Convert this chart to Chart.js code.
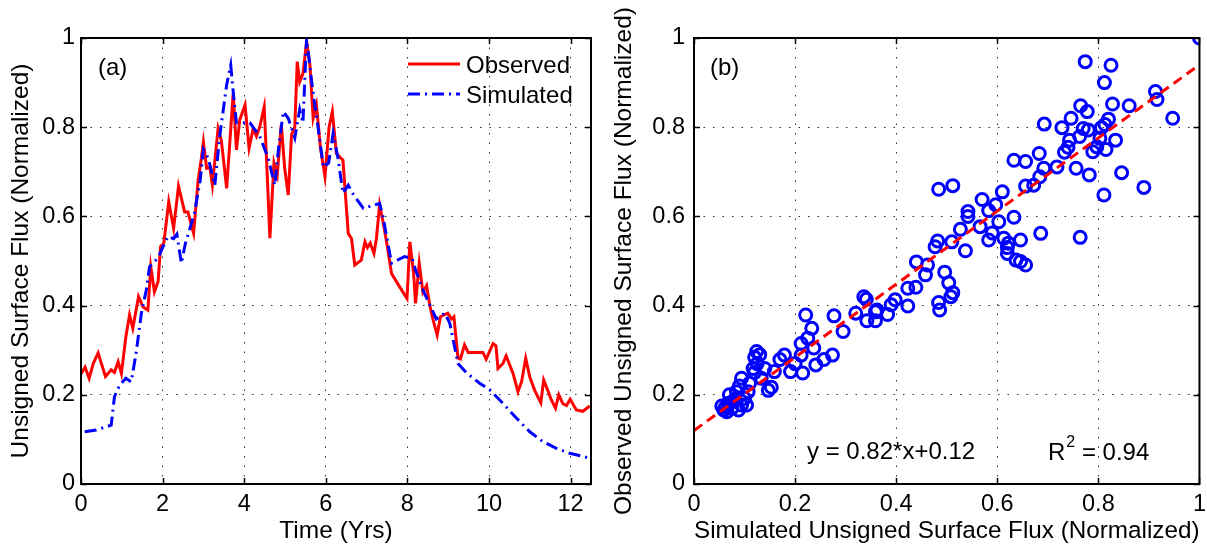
<!DOCTYPE html>
<html>
<head>
<meta charset="utf-8">
<script src="https://cdn.jsdelivr.net/npm/chart.js@4.4.0/dist/chart.umd.min.js"></script>
<style>
    html, body { margin: 0; padding: 0; background: #fff; overflow: hidden; width: 1207px; height: 546px; }
    #panelA { position: absolute; left: 0; top: 0; }
    #panelB { position: absolute; left: 600px; top: 0; }
</style>
</head>
<body>
<canvas id="panelA" width="600" height="546"></canvas>
<canvas id="panelB" width="612" height="546"></canvas>
<script>
/* FIGURA FLUJO SUPERFICIAL: (a) serie temporal, (b) dispersión */

// DATOS PANEL (a)
const tiempoObs = [
    0.0, 0.1, 0.2, 0.3, 0.42, 0.5, 0.6, 0.74, 0.82, 0.91, 0.99, 1.1, 1.19, 1.27, 1.41, 1.52, 1.64, 1.71, 1.8, 1.89,
    1.95, 2.03, 2.15, 2.27, 2.39, 2.54, 2.62, 2.76, 2.87, 2.95, 3.0, 3.08, 3.16, 3.22, 3.36, 3.44, 3.57, 3.73, 3.81, 3.89,
    4.02, 4.12, 4.22, 4.3, 4.38, 4.49, 4.55, 4.63, 4.73, 4.81, 4.91, 4.99, 5.08, 5.16, 5.24, 5.3, 5.36, 5.44, 5.53, 5.61,
    5.69, 5.77, 5.87, 5.98, 6.08, 6.16, 6.26, 6.42, 6.55, 6.63, 6.71, 6.87, 6.96, 7.02, 7.09, 7.18, 7.24, 7.32, 7.42, 7.53,
    7.61, 7.81, 7.99, 8.06, 8.15, 8.2, 8.29, 8.38, 8.47, 8.55, 8.63, 8.73, 8.81, 8.92, 8.99, 9.08, 9.14, 9.24, 9.3, 9.4,
    9.49, 9.85, 9.93, 10.1, 10.17, 10.22, 10.34, 10.42, 10.59, 10.71, 10.8, 10.9, 11.0, 11.12, 11.27, 11.34, 11.44, 11.52, 11.63, 11.71,
    11.81, 11.9, 11.99, 12.14, 12.3, 12.47
];
const observado = [
    0.247, 0.262, 0.237, 0.27, 0.294, 0.27, 0.241, 0.256, 0.25, 0.274, 0.248, 0.33, 0.379, 0.349, 0.42, 0.397, 0.39, 0.487, 0.431, 0.454,
    0.532, 0.54, 0.633, 0.573, 0.668, 0.61, 0.61, 0.562, 0.68, 0.73, 0.767, 0.708, 0.71, 0.67, 0.797, 0.77, 0.663, 0.876, 0.749, 0.816,
    0.85, 0.753, 0.797, 0.78, 0.8, 0.846, 0.723, 0.551, 0.72, 0.693, 0.805, 0.71, 0.648, 0.783, 0.8, 0.947, 0.902, 0.92, 0.992, 0.94,
    0.82, 0.85, 0.753, 0.689, 0.8, 0.835, 0.741, 0.726, 0.562, 0.55, 0.491, 0.502, 0.543, 0.53, 0.54, 0.517, 0.55, 0.626, 0.58, 0.52,
    0.472, 0.442, 0.416, 0.543, 0.475, 0.405, 0.495, 0.43, 0.445, 0.4, 0.368, 0.334, 0.375, 0.38, 0.383, 0.37, 0.375, 0.282, 0.28, 0.312,
    0.295, 0.295, 0.28, 0.315, 0.31, 0.259, 0.27, 0.287, 0.248, 0.207, 0.23, 0.282, 0.24, 0.21, 0.182, 0.233, 0.21, 0.19, 0.17, 0.2,
    0.18, 0.176, 0.19, 0.166, 0.163, 0.175
];
const tiempoSim = [
    0.09, 0.375, 0.74, 0.82, 0.95, 1.1, 1.23, 1.35, 1.48, 1.6, 1.68, 1.89, 2.0, 2.13, 2.27, 2.35, 2.46, 2.56, 2.78, 2.92,
    3.0, 3.12, 3.28, 3.4, 3.57, 3.67, 3.73, 3.81, 3.98, 4.14, 4.38, 4.59, 4.75, 4.85, 4.96, 5.08, 5.24, 5.36, 5.44, 5.53,
    5.65, 5.73, 5.81, 5.94, 6.07, 6.18, 6.3, 6.42, 6.55, 6.67, 6.92, 7.32, 7.4, 7.61, 7.93, 8.12, 8.2, 8.36, 8.55, 8.71,
    8.92, 9.04, 9.24, 9.44, 9.77, 10.02, 10.34, 10.67, 11.0, 11.32, 11.65, 11.98, 12.47
];
const simulado = [
    0.117, 0.121, 0.132, 0.196, 0.222, 0.237, 0.229, 0.293, 0.383, 0.435, 0.487, 0.507, 0.53, 0.555, 0.55, 0.56, 0.495, 0.54, 0.607, 0.68,
    0.75, 0.73, 0.67, 0.78, 0.895, 0.939, 0.88, 0.81, 0.81, 0.81, 0.78, 0.73, 0.67, 0.76, 0.835, 0.82, 0.776, 0.84, 0.81, 1.0,
    0.905, 0.85, 0.8, 0.71, 0.72, 0.786, 0.73, 0.652, 0.67, 0.65, 0.618, 0.629, 0.6, 0.495, 0.51, 0.505, 0.48, 0.44, 0.401, 0.37,
    0.383, 0.36, 0.27, 0.25, 0.226, 0.211, 0.181, 0.148, 0.117, 0.095, 0.08, 0.069, 0.058
];

// DATOS PANEL (b)
const flujoSimulado = [
    0.336, 0.221, 0.277, 0.320, 0.342, 0.359, 0.359, 0.233, 0.295, 0.225,
    0.212, 0.237, 0.124, 0.120, 0.179, 0.170, 0.212, 0.200, 0.274, 0.257,
    0.241, 0.191, 0.215, 0.159, 0.140, 0.117, 0.133, 0.094, 0.110, 0.153,
    0.147, 0.084, 0.107, 0.100, 0.081, 0.068, 0.055, 0.065, 0.088, 0.104,
    0.059, 0.075, 0.094, 0.070, 0.090, 0.125, 0.130, 0.120, 0.062, 0.078,
    0.484, 0.512, 0.570, 0.610, 0.656, 0.672, 0.684, 0.692, 0.718, 0.633,
    0.656, 0.597, 0.583, 0.542, 0.542, 0.603, 0.633, 0.566, 0.527, 0.590,
    0.583, 0.613, 0.622, 0.646, 0.686, 0.482, 0.477, 0.510, 0.537, 0.620,
    0.620, 0.637, 0.646, 0.656, 0.440, 0.462, 0.458, 0.496, 0.504, 0.423,
    0.439, 0.512, 0.508, 0.484, 0.486, 0.423, 0.398, 0.390, 0.362, 0.341,
    0.383,
    1.000, 0.774, 0.825, 0.812, 0.913, 0.916, 0.947, 0.828, 0.861, 0.765,
    0.778, 0.693, 0.746, 0.728, 0.770, 0.780, 0.763, 0.743, 0.813, 0.820,
    0.806, 0.803, 0.834, 0.797, 0.815, 0.789, 0.740, 0.733, 0.683, 0.756,
    0.782, 0.846, 0.890, 0.811, 0.764
];
const flujoObservado = [
    0.420, 0.379, 0.377, 0.383, 0.366, 0.386, 0.366, 0.349, 0.342, 0.327,
    0.315, 0.305, 0.297, 0.284, 0.289, 0.279, 0.289, 0.270, 0.289, 0.279,
    0.267, 0.252, 0.249, 0.252, 0.259, 0.259, 0.237, 0.237, 0.226, 0.217,
    0.210, 0.207, 0.207, 0.192, 0.190, 0.181, 0.175, 0.162, 0.166, 0.177,
    0.166, 0.170, 0.177, 0.200, 0.220, 0.270, 0.290, 0.250, 0.172, 0.185,
    0.661, 0.669, 0.638, 0.655, 0.668, 0.670, 0.689, 0.708, 0.711, 0.726,
    0.723, 0.626, 0.613, 0.611, 0.600, 0.588, 0.598, 0.577, 0.571, 0.563,
    0.547, 0.551, 0.540, 0.547, 0.562, 0.545, 0.532, 0.543, 0.523, 0.530,
    0.517, 0.502, 0.499, 0.491, 0.498, 0.491, 0.469, 0.475, 0.451, 0.439,
    0.441, 0.429, 0.420, 0.407, 0.390, 0.399, 0.413, 0.402, 0.390, 0.414,
    0.380,
    1.000, 0.947, 0.939, 0.900, 0.880, 0.862, 0.820, 0.852, 0.848, 0.848,
    0.835, 0.807, 0.820, 0.799, 0.797, 0.794, 0.779, 0.771, 0.806, 0.818,
    0.799, 0.775, 0.771, 0.756, 0.750, 0.745, 0.755, 0.744, 0.741, 0.708,
    0.693, 0.698, 0.665, 0.648, 0.553
];
// recta de ajuste y = 0.82*x + 0.12
const ajusteX = [0, 1];
const ajusteY = [0.12, 0.94];

// TICKS
const ticksTiempo = [0, 2, 4, 6, 8, 10, 12];
const ticksFlujo = [0, 0.2, 0.4, 0.6, 0.8, 1];

const FUENTE = '"Liberation Sans", Arial, Helvetica, sans-serif';
const ROJO = '#ff0000';
const AZUL = '#0000ff';

const aPuntos = (xs, ys) => xs.map((x, i) => ({ x: x, y: ys[i] }));

// caja estilo matlab con ticks hacia dentro
const marcoPlugin = {
    id: 'marco',
    afterDatasetsDraw(chart) {
        const { ctx, chartArea: a, scales } = chart;
        ctx.save();
        ctx.strokeStyle = '#000';
        ctx.lineWidth = 1.5;
        ctx.beginPath();
        scales.x.ticks.forEach(t => {
            const px = Math.round(scales.x.getPixelForValue(t.value)) + 0.5;
            ctx.moveTo(px, a.bottom); ctx.lineTo(px, a.bottom - 6);
            ctx.moveTo(px, a.top); ctx.lineTo(px, a.top + 6);
        });
        scales.y.ticks.forEach(t => {
            const py = Math.round(scales.y.getPixelForValue(t.value)) + 0.5;
            ctx.moveTo(a.left, py); ctx.lineTo(a.left + 6, py);
            ctx.moveTo(a.right, py); ctx.lineTo(a.right - 6, py);
        });
        ctx.stroke();
        ctx.lineWidth = 2;
        ctx.strokeRect(a.left, a.top, a.right - a.left, a.bottom - a.top);
        ctx.restore();
    }
};

function texto(ctx, str, x, y, size) {
    ctx.font = size + 'px ' + FUENTE;
    ctx.fillStyle = '#000';
    ctx.textBaseline = 'middle';
    ctx.textAlign = 'left';
    ctx.fillText(str, x, y);
    return ctx.measureText(str).width;
}

// leyenda y etiqueta del panel (a)
const anotacionA = {
    id: 'anotacionA',
    afterDraw(chart) {
        const ctx = chart.ctx;
        ctx.save();
        texto(ctx, '(a)', 98, 68, 24);
        const ds = chart.data.datasets;
        [[ds[0], 64, 'Observed'], [ds[1], 94, 'Simulated']].forEach(([d, y, lbl]) => {
            ctx.strokeStyle = d.borderColor;
            ctx.lineWidth = d.borderWidth;
            ctx.setLineDash(d.borderDash || []);
            ctx.beginPath();
            ctx.moveTo(408, y); ctx.lineTo(460, y);
            ctx.stroke();
            ctx.setLineDash([]);
            texto(ctx, lbl, 466, y + 2, 24);
        });
        ctx.restore();
    }
};

// etiqueta, ecuación y R^2 del panel (b)
const anotacionB = {
    id: 'anotacionB',
    afterDraw(chart) {
        const ctx = chart.ctx;
        ctx.save();
        texto(ctx, '(b)', 110, 68, 24);
        texto(ctx, 'y = 0.82*x+0.12', 207, 452, 24);
        let x = 448;
        x += texto(ctx, 'R', x, 453, 24);
        x += texto(ctx, '2', x + 1, 443, 16) + 1;
        texto(ctx, ' = 0.94', x, 453, 24);
        ctx.restore();
    }
};

function ejes(tituloX, tituloY, maxX, ticksX, anchoY, padTitY, padTickY) {
    const tickFont = { family: FUENTE, size: 23.5 };
    const titFont = { family: FUENTE, size: 24.5 };
    return {
        x: {
            type: 'linear', min: 0, max: maxX,
            afterBuildTicks: s => { s.ticks = ticksX.map(v => ({ value: v })); },
            afterFit: s => { s.height = 62; },
            ticks: { autoSkip: false, maxRotation: 0, padding: 6, color: '#000', font: tickFont, callback: v => String(+v.toFixed(1)) },
            grid: { color: '#333', lineWidth: 1, drawTicks: false },
            border: { display: false, dash: [1.5, 8] },
            title: { display: true, text: tituloX, color: '#000', font: titFont, padding: { top: 0, bottom: 0 } }
        },
        y: {
            type: 'linear', min: 0, max: 1,
            afterBuildTicks: s => { s.ticks = ticksFlujo.map(v => ({ value: v })); },
            afterFit: s => { s.width = anchoY; },
            ticks: { autoSkip: false, padding: padTickY, color: '#000', font: tickFont, callback: v => String(+v.toFixed(1)) },
            grid: { color: '#333', lineWidth: 1, drawTicks: false },
            border: { display: false, dash: [1.5, 8] },
            title: { display: true, text: tituloY, color: '#000', font: titFont, padding: { top: padTitY, bottom: 0 } }
        }
    };
}

const opcionesBase = {
    responsive: false,
    animation: false,
    events: [],
    plugins: { legend: { display: false }, tooltip: { enabled: false } }
};

// PANEL (a)
new Chart(document.getElementById('panelA').getContext('2d'), {
    type: 'line',
    data: {
        datasets: [{
            label: 'Observed',
            data: aPuntos(tiempoObs, observado),
            borderColor: ROJO, borderWidth: 3, pointRadius: 0, tension: 0, fill: false, order: 2
        }, {
            label: 'Simulated',
            data: aPuntos(tiempoSim, simulado),
            borderColor: AZUL, borderWidth: 3, borderDash: [12, 5, 2, 5], pointRadius: 0, tension: 0, fill: false, order: 1
        }]
    },
    options: Object.assign({}, opcionesBase, {
        layout: { padding: { top: 38, right: 9, bottom: 0, left: 0 } },
        scales: ejes('Time (Yrs)', 'Unsigned Surface Flux (Normalized)', 12.5, ticksTiempo, 81, 7, 6)
    }),
    plugins: [marcoPlugin, anotacionA]
});

// PANEL (b)
new Chart(document.getElementById('panelB').getContext('2d'), {
    type: 'scatter',
    data: {
        datasets: [{
            type: 'line',
            label: 'Ajuste',
            data: aPuntos(ajusteX, ajusteY),
            borderColor: ROJO, borderWidth: 3, borderDash: [10, 6], pointRadius: 0, fill: false, order: 1
        }, {
            label: 'Datos',
            data: aPuntos(flujoSimulado, flujoObservado),
            borderColor: AZUL, backgroundColor: 'rgba(0,0,0,0)', pointRadius: 6, pointBorderWidth: 3, order: 2
        }]
    },
    options: Object.assign({}, opcionesBase, {
        layout: { padding: { top: 38, right: 9, bottom: 0, left: 0 } },
        scales: ejes('Simulated Unsigned Surface Flux (Normalized)', 'Observed Unsigned Surface Flux (Normalized)', 1, ticksFlujo, 94, 10, 9)
    }),
    plugins: [marcoPlugin, anotacionB]
});
</script>
</body>
</html>
